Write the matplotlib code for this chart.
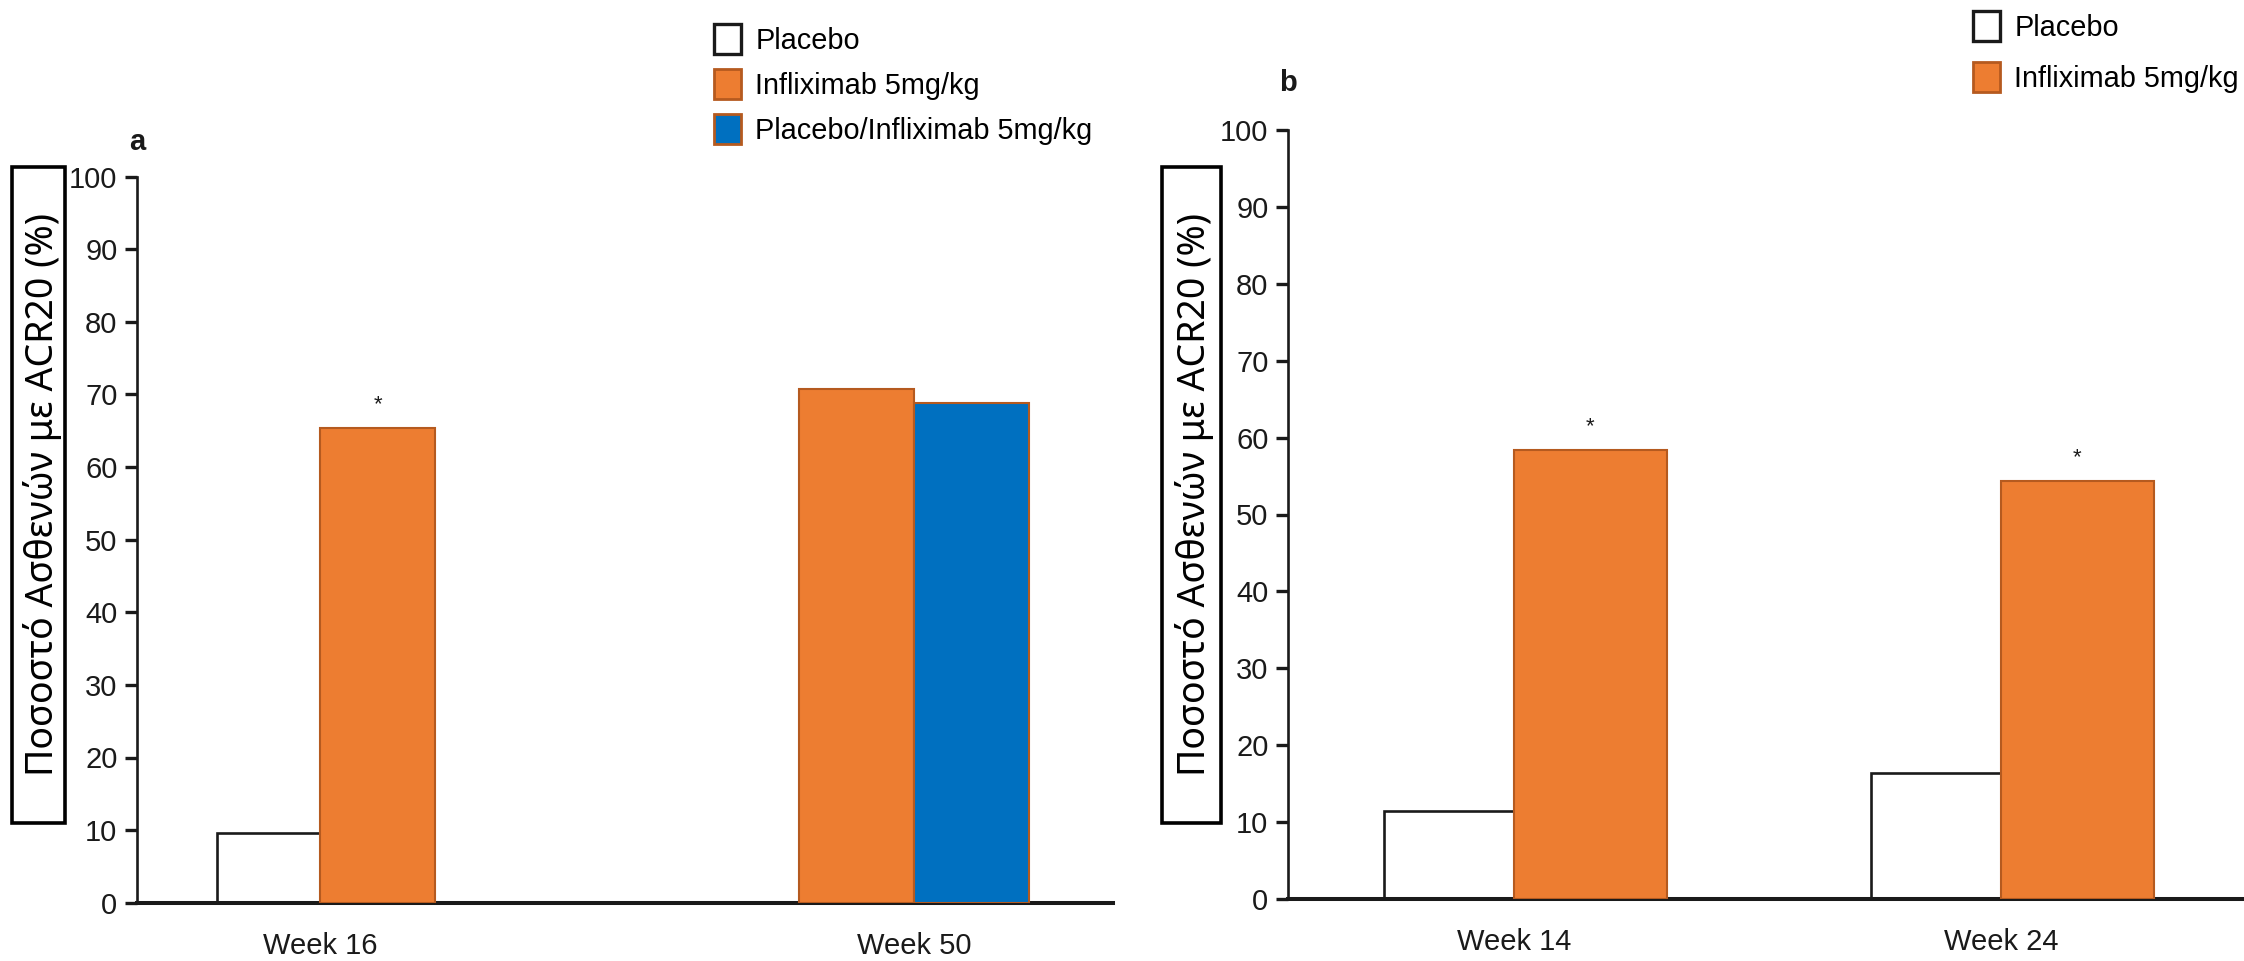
import matplotlib
matplotlib.use('Agg')
import matplotlib.pyplot as plt
from matplotlib.patches import Patch, Rectangle

W, H, DPI = 2244, 961, 100

INK = '#1a1a1a'
ORANGE = '#ed7d31'
ORANGE_EDGE = '#b55a1f'
BLUE = '#0070c0'

SANS = ['Liberation Sans', 'DejaVu Sans']
GREEK = ['Noto Sans', 'DejaVu Sans']
plt.rcParams['font.family'] = SANS

YLABEL = 'Ποσοστό Ασθενών με ACR20 (%)'
LBL_PLACEBO = 'Placebo'
LBL_INFLIX = 'Infliximab 5mg/kg'
LBL_SWITCH = 'Placebo/Infliximab 5mg/kg'

# panel a
weeks_a = ['Week 16', 'Week 50']
placebo_a = [9.6, None]
infliximab_a = [65.4, 70.8]
switch_a = [None, 68.8]
stars_a = [True, False]

# panel b
weeks_b = ['Week 14', 'Week 24']
placebo_b = [11.4, 16.4]
infliximab_b = [58.4, 54.4]
stars_b = [True, True]


def fx(px):
    return px / W


def fy(py):
    return 1 - py / H


def style_axis(ax, labels, xlim):
    ax.set_ylim(0, 100)
    ax.set_xlim(*xlim)
    for side in ('top', 'right'):
        ax.spines[side].set_visible(False)
    ax.spines['left'].set_linewidth(1.9)
    ax.spines['bottom'].set_linewidth(2.9)
    ax.spines['left'].set_color(INK)
    ax.spines['bottom'].set_color(INK)
    ax.set_yticks(range(0, 101, 10))
    ax.set_xticks(range(len(labels)))
    ax.set_xticklabels(labels)
    ax.tick_params(axis='y', length=8.6, width=2.4, pad=5.5, labelsize=21,
                   color=INK, labelcolor=INK)
    ax.tick_params(axis='x', length=0, pad=21, labelsize=21, labelcolor=INK)


def draw_groups(ax, series, stars):
    # bars of a group sit side by side, the first one ending on the tick
    for gi in range(len(series[0][0])):
        present = [s for s in series if s[0][gi] is not None]
        left = gi - present[0][4]
        for vals, face, edge, lw, width, zo, starred in present:
            ax.bar(left, vals[gi], width=width, align='edge', color=face,
                   edgecolor=edge, linewidth=lw, zorder=zo)
            if starred and stars[gi]:
                ax.annotate('*', (left + width / 2, vals[gi]),
                            xytext=(0, 9), textcoords='offset points',
                            ha='center', va='bottom', fontsize=16, color=INK)
            left += width


fig = plt.figure(figsize=(W / DPI, H / DPI), dpi=DPI)
ax_a = fig.add_axes([fx(137), fy(902.7), (1113 - 137) / W, (902.7 - 176.7) / H])
ax_b = fig.add_axes([fx(1288), fy(899), (2244 - 1288) / W, (899 - 130) / H])

style_axis(ax_a, weeks_a, (-0.308, 1.335))
style_axis(ax_b, weeks_b, (-0.464, 1.499))

draw_groups(ax_a, [
    (placebo_a, 'white', INK, 1.9, 0.173, 2, False),
    (infliximab_a, ORANGE, ORANGE_EDGE, 1.5, 0.194, 3, True),
    (switch_a, BLUE, ORANGE_EDGE, 1.5, 0.194, 3, False),
], stars_a)

draw_groups(ax_b, [
    (placebo_b, 'white', INK, 1.9, 0.267, 2, False),
    (infliximab_b, ORANGE, ORANGE_EDGE, 1.5, 0.314, 3, True),
], stars_b)

h_placebo = Patch(facecolor='white', edgecolor=INK, linewidth=2.4, label=LBL_PLACEBO)
h_inflix = Patch(facecolor=ORANGE, edgecolor=ORANGE_EDGE, linewidth=2, label=LBL_INFLIX)
h_switch = Patch(facecolor=BLUE, edgecolor=ORANGE_EDGE, linewidth=2, label=LBL_SWITCH)

legend_kw = dict(loc='upper left', bbox_transform=fig.transFigure, frameon=False,
                 fontsize=20.8, handlelength=0.93, handleheight=1.2,
                 handletextpad=0.5, borderpad=0, borderaxespad=0)
ax_a.legend(handles=[h_placebo, h_inflix, h_switch], bbox_to_anchor=(fx(714), fy(24)),
            labelspacing=0.5, **legend_kw)
ax_b.legend(handles=[h_placebo, h_inflix], bbox_to_anchor=(fx(1973), fy(11)),
            labelspacing=0.72, **legend_kw)

fig.text(fx(137), fy(142), 'a', ha='center', va='center', fontsize=21,
         fontweight='bold', color=INK)
fig.text(fx(1288), fy(83), 'b', ha='center', va='center', fontsize=21,
         fontweight='bold', color=INK)

# boxed y labels
for x0, x1, base in ((12, 65, 53), (1162, 1221, 1205)):
    fig.add_artist(Rectangle((fx(x0), fy(823)), (x1 - x0) / W, (823 - 167) / H,
                             transform=fig.transFigure, fill=False,
                             edgecolor='black', linewidth=2.6))
    fig.text(fx(base), fy(495), YLABEL, rotation=90, rotation_mode='anchor',
             ha='center', va='baseline', fontsize=27, family=GREEK, color='black')

fig.savefig('out.png', dpi=DPI)
